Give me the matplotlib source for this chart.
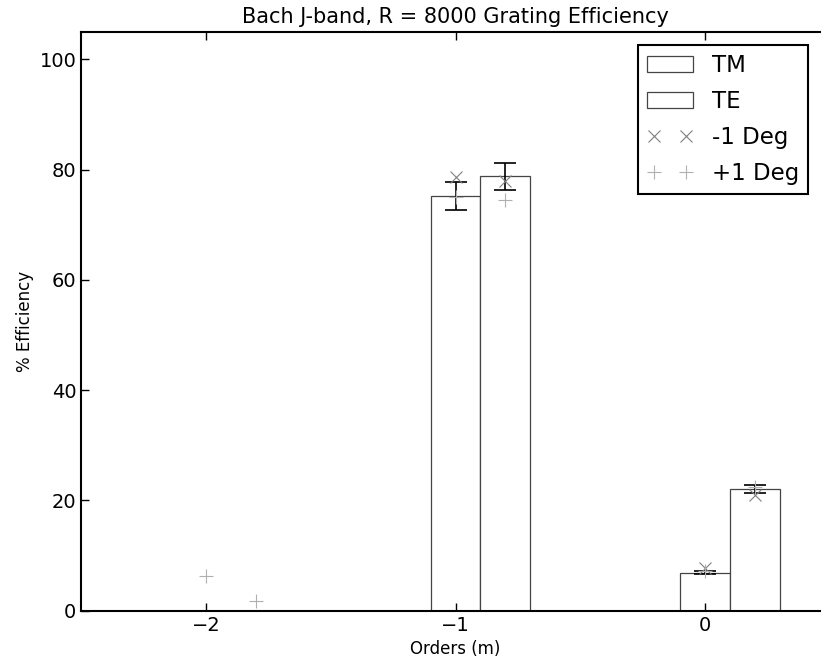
import matplotlib
matplotlib.use("Agg")
import matplotlib.pyplot as plt
import numpy as np

orders = np.array([-2, -1, 0])
tm_eff = [0.0, 75.2, 6.9]
te_eff = [0.0, 78.8, 22.1]
tm_err = [0.0, 2.5, 0.3]
te_err = [0.0, 2.45, 0.7]
minus1_tm = [np.nan, 78.7, 7.8]
minus1_te = [np.nan, 78.0, 21.0]
plus1_tm = [6.3, 75.0, 7.2]
plus1_te = [1.8, 74.4, 22.5]

width = 0.2

fig = plt.figure(figsize=(8.21, 6.66), dpi=100)
ax = fig.add_axes([81.3 / 821, 55.3 / 666, 748.5 / 821, 579.0 / 666])

b1 = ax.bar(orders, tm_eff, width, color="white", edgecolor="#444444",
            linewidth=0.9, label="TM", align="center")
b2 = ax.bar(orders + width, te_eff, width, color="white", edgecolor="#444444",
            linewidth=0.9, label="TE", align="center")
ax.errorbar(orders[1:], tm_eff[1:], yerr=tm_err[1:], fmt="none", ecolor="black",
            capsize=8, elinewidth=1.2, capthick=1.2)
ax.errorbar(orders[1:] + width, te_eff[1:], yerr=te_err[1:], fmt="none", ecolor="black",
            capsize=8, elinewidth=1.2, capthick=1.2)

xs_m = np.concatenate([orders, orders + width])
l1, = ax.plot(xs_m, minus1_tm + minus1_te, "x", color="#808080", markersize=9,
              markeredgewidth=0.8, label="-1 Deg")
l2, = ax.plot(xs_m, plus1_tm + plus1_te, "+", color="#b0b0b0", markersize=10,
              markeredgewidth=0.8, label="+1 Deg")

ax.set_xlim(-2.5, 0.5)
ax.set_ylim(0, 105)
ax.set_xticks([-2, -1, 0])
ax.set_xticklabels(["\u22122", "\u22121", "0"])
ax.set_yticks([0, 20, 40, 60, 80, 100])
ax.tick_params(direction="in", top=True, right=True, labelsize=14, length=6, width=1)
for s in ax.spines.values():
    s.set_linewidth(1.5)

ax.set_title("Bach J-band, R = 8000 Grating Efficiency", fontsize=15)
ax.set_xlabel("Orders (m)", fontsize=12)
ax.set_ylabel("% Efficiency", fontsize=12)

leg = ax.legend([b1, b2, l1, l2], ["TM", "TE", "-1 Deg", "+1 Deg"],
                loc="upper right", bbox_to_anchor=(808 / 821, 1 - 45 / 666),
                bbox_transform=fig.transFigure, borderaxespad=0, numpoints=2,
                fontsize=16.5, fancybox=False, framealpha=1, edgecolor="black",
                handlelength=2.0, handletextpad=0.8, labelspacing=0.56)
leg.get_frame().set_linewidth(1.5)

fig.savefig("out.png", dpi=100)
